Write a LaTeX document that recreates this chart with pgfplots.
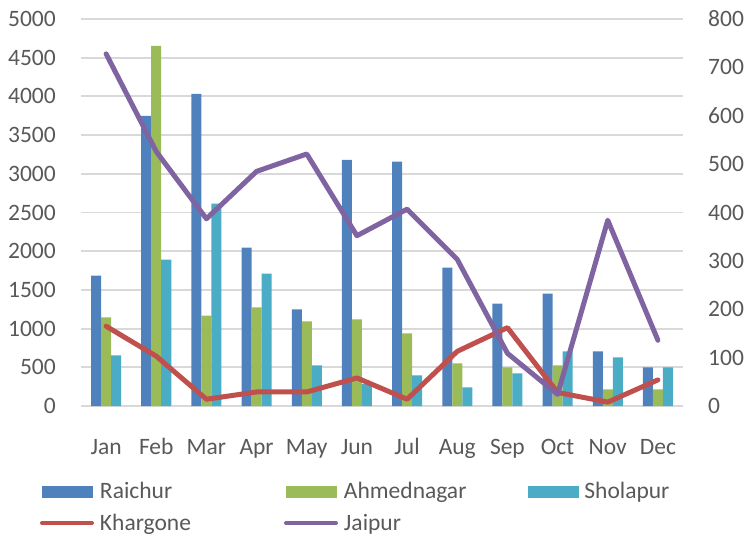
\documentclass[border=0pt]{standalone}
\usepackage{pgfplots}
\pgfplotsset{compat=1.18}
\usepackage{fontspec}
\setmainfont{Carlito}
\definecolor{raichur}{HTML}{4F81BD}
\definecolor{ahmed}{HTML}{9BBB59}
\definecolor{sholapur}{HTML}{4BACC6}
\definecolor{khargone}{HTML}{C0504D}
\definecolor{jaipur}{HTML}{8064A2}
\definecolor{gridgray}{HTML}{D9D9D9}
\definecolor{labelgray}{HTML}{595959}
\newcommand\cf{\fontsize{23.5bp}{28bp}\selectfont}
\begin{document}
\begin{tikzpicture}
\path[use as bounding box] (-81bp,-131bp) rectangle (664bp,406bp);
\begin{axis}[
  at={(0,0)}, anchor=south west,
  width=602bp, height=387bp, scale only axis,
  xmin=-0.5, xmax=11.5, ymin=0, ymax=5000,
  ytick={0,500,...,5000},
  xtick={0,...,11},
  xticklabels={Jan,Feb,Mar,Apr,May,Jun,Jul,Aug,Sep,Oct,Nov,Dec},
  ymajorgrids, grid style={color=gridgray, line width=1.8bp},
  axis line style={draw=none},
  major tick length=0pt,
  /pgf/number format/assume math mode=true,
  /pgf/number format/1000 sep={},
  tick label style={font=\cf, text=labelgray, inner sep=0pt},
  yticklabel style={anchor=east, xshift=-25bp},
  xticklabel style={anchor=base, yshift=-48bp},
  clip=false,
]
\addplot[ybar, fill=raichur, draw=none, bar width=10bp, bar shift=-10bp] coordinates {
(0,1685) (1,3749) (2,4033) (3,2046) (4,1247) (5,3181) (6,3156) (7,1788) (8,1324) (9,1453) (10,705) (11,499)};
\addplot[ybar, fill=ahmed, draw=none, bar width=10bp, bar shift=0bp] coordinates {
(0,1144) (1,4652) (2,1169) (3,1273) (4,1092) (5,1118) (6,937) (7,550) (8,499) (9,525) (10,215) (11,215)};
\addplot[ybar, fill=sholapur, draw=none, bar width=10bp, bar shift=10bp] coordinates {
(0,653) (1,1892) (2,2614) (3,1711) (4,525) (5,284) (6,396) (7,241) (8,421) (9,705) (10,628) (11,499)};
\end{axis}
\begin{axis}[
  at={(0,0)}, anchor=south west,
  width=602bp, height=387bp, scale only axis,
  xmin=-0.5, xmax=11.5, ymin=0, ymax=800,
  ytick={0,100,...,800},
  hide x axis,
  axis y line*=right,
  axis line style={draw=none},
  major tick length=0pt,
  /pgf/number format/assume math mode=true,
  tick label style={font=\cf, text=labelgray, inner sep=0pt},
  yticklabel style={anchor=west, xshift=25bp},
  clip=false,
  legend columns=3,
  legend style={draw=none, fill=none, inner sep=0pt, outer sep=0pt,
    at={(0,0)}, anchor=north west, xshift=-41bp, yshift=-74.5bp,
    font=\cf, text=labelgray,
    row sep=9.5bp,
    nodes={inner sep=0pt, text height=18bp, text depth=4bp, text width=150bp, anchor=west},
    /tikz/every odd column/.append style={column sep=6bp},
    /tikz/every even column/.append style={column sep=34bp}},
  legend cell align=left,
  legend image code/.code={\draw[#1, line width=4bp, line cap=round] (0bp,0bp) -- (50bp,0bp);},
]
\addlegendimage{legend image code/.code={\fill[raichur] (0bp,-5.5bp) rectangle (50bp,5.5bp);}}
\addlegendimage{legend image code/.code={\fill[ahmed] (0bp,-5.5bp) rectangle (50bp,5.5bp);}}
\addlegendimage{legend image code/.code={\fill[sholapur] (0bp,-5.5bp) rectangle (50bp,5.5bp);}}
\addplot[khargone, line width=5bp, line join=round, line cap=round, mark=none] coordinates {
(0,165) (1,103) (2,14) (3,29) (4,29) (5,58) (6,14) (7,113) (8,162) (9,28) (10,8) (11,54)};
\addplot[jaipur, line width=5bp, line join=round, line cap=round, mark=none] coordinates {
(0,728) (1,526) (2,387) (3,485) (4,521) (5,352) (6,407) (7,303) (8,109) (9,24) (10,384) (11,136)};
\legend{Raichur,Ahmednagar,Sholapur,Khargone,Jaipur}
\end{axis}
\end{tikzpicture}
\end{document}
